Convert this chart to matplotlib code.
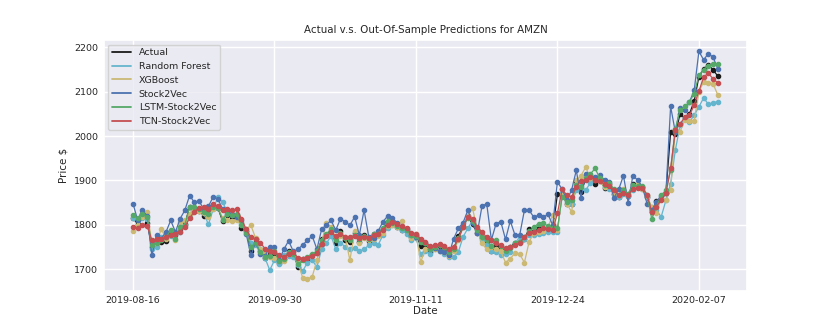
import matplotlib
matplotlib.use("Agg")
import matplotlib.pyplot as plt
from matplotlib.lines import Line2D
import seaborn as sns

sns.set_theme(style="darkgrid")
plt.rcParams['font.family'] = ['DejaVu Sans']

tick_positions = [0, 30, 60, 90, 120]
tick_labels = ["2019-08-16", "2019-09-30", "2019-11-11", "2019-12-24", "2020-02-07"]

actual = [1816, 1801, 1824, 1805, 1750, 1769, 1762, 1764, 1786, 1776,
          1790, 1801, 1841, 1834, 1831, 1821, 1823, 1844, 1839, 1808,
          1823, 1817, 1822, 1794, 1785, 1742, 1768, 1740, 1725, 1736,
          1736, 1713, 1724, 1740, 1733, 1706, 1722, 1720, 1732, 1736,
          1767, 1777, 1787, 1758, 1786, 1766, 1762, 1781, 1761, 1777,
          1763, 1780, 1777, 1791, 1805, 1802, 1796, 1788, 1786, 1772,
          1778, 1753, 1755, 1739, 1753, 1753, 1746, 1735, 1746, 1774,
          1797, 1819, 1801, 1782, 1770, 1761, 1740, 1752, 1750, 1739,
          1749, 1760, 1761, 1769, 1791, 1784, 1792, 1787, 1793, 1789,
          1869, 1870, 1847, 1848, 1898, 1875, 1903, 1907, 1892, 1901,
          1883, 1891, 1869, 1862, 1878, 1865, 1892, 1887, 1885, 1862,
          1828, 1853, 1858, 1871, 2009, 2004, 2050, 2040, 2050, 2079,
          2134, 2151, 2160, 2150, 2135]

random_forest = [1815, 1812, 1815, 1814, 1746, 1750, 1773, 1770, 1775, 1780,
                 1784, 1800, 1823, 1840, 1832, 1826, 1801, 1835, 1863, 1851,
                 1830, 1822, 1815, 1805, 1785, 1760, 1755, 1745, 1725, 1698,
                 1720, 1712, 1732, 1730, 1728, 1710, 1696, 1715, 1720, 1705,
                 1745, 1758, 1775, 1745, 1760, 1750, 1745, 1748, 1741, 1745,
                 1754, 1760, 1755, 1777, 1794, 1800, 1795, 1788, 1780, 1765,
                 1770, 1735, 1742, 1735, 1745, 1742, 1735, 1727, 1728, 1739,
                 1773, 1792, 1810, 1790, 1765, 1755, 1740, 1738, 1732, 1734,
                 1739, 1758, 1773, 1769, 1777, 1777, 1780, 1782, 1784, 1784,
                 1784, 1871, 1856, 1848, 1878, 1887, 1878, 1895, 1905, 1898,
                 1885, 1880, 1870, 1862, 1870, 1866, 1878, 1885, 1880, 1862,
                 1840, 1833, 1818, 1855, 1893, 1968, 2024, 2040, 2032, 2047,
                 2066, 2086, 2072, 2075, 2078]

xgboost = [1786, 1800, 1818, 1829, 1760, 1758, 1791, 1768, 1778, 1765,
           1806, 1810, 1825, 1838, 1832, 1826, 1818, 1835, 1840, 1815,
           1810, 1808, 1812, 1806, 1790, 1799, 1770, 1745, 1735, 1728,
           1725, 1730, 1718, 1735, 1740, 1715, 1680, 1678, 1683, 1720,
           1760, 1805, 1795, 1770, 1775, 1772, 1720, 1785, 1760, 1770,
           1765, 1768, 1775, 1782, 1798, 1800, 1795, 1809, 1790, 1770,
           1780, 1716, 1745, 1748, 1745, 1740, 1738, 1730, 1742, 1765,
           1795, 1820, 1837, 1790, 1758, 1745, 1750, 1745, 1740, 1715,
           1724, 1736, 1734, 1715, 1762, 1781, 1784, 1787, 1795, 1822,
           1788, 1867, 1848, 1829, 1900, 1911, 1930, 1905, 1900, 1898,
           1885, 1890, 1872, 1868, 1880, 1870, 1888, 1892, 1880, 1865,
           1840, 1826, 1860, 1856, 1878, 2013, 2010, 2036, 2034, 2034,
           2100, 2122, 2120, 2118, 2093]

stock2vec = [1848, 1810, 1833, 1820, 1731, 1776, 1769, 1784, 1810, 1784,
             1814, 1833, 1866, 1851, 1854, 1835, 1842, 1863, 1858, 1836,
             1829, 1825, 1818, 1810, 1780, 1731, 1760, 1735, 1730, 1750,
             1750, 1720, 1745, 1764, 1740, 1745, 1755, 1765, 1775, 1745,
             1790, 1800, 1810, 1788, 1814, 1807, 1799, 1818, 1777, 1833,
             1773, 1770, 1786, 1807, 1820, 1815, 1805, 1795, 1790, 1778,
             1772, 1765, 1758, 1745, 1748, 1740, 1738, 1733, 1769, 1792,
             1805, 1833, 1805, 1781, 1842, 1848, 1766, 1803, 1807, 1767,
             1809, 1777, 1777, 1833, 1833, 1817, 1822, 1817, 1824, 1799,
             1897, 1880, 1856, 1878, 1923, 1861, 1914, 1912, 1907, 1912,
             1901, 1897, 1861, 1880, 1911, 1850, 1911, 1901, 1886, 1848,
             1833, 1852, 1866, 1871, 2067, 2009, 2064, 2058, 2077, 2103,
             2191, 2172, 2186, 2178, 2152]

lstm_stock2vec = [1823, 1815, 1825, 1818, 1754, 1760, 1765, 1772, 1788, 1769,
                  1795, 1800, 1840, 1840, 1835, 1828, 1825, 1840, 1838, 1812,
                  1825, 1822, 1824, 1800, 1782, 1750, 1760, 1738, 1728, 1730,
                  1740, 1718, 1722, 1738, 1735, 1712, 1720, 1728, 1735, 1740,
                  1765, 1780, 1790, 1765, 1782, 1770, 1765, 1778, 1768, 1775,
                  1768, 1780, 1780, 1792, 1808, 1805, 1798, 1792, 1788, 1776,
                  1775, 1762, 1758, 1745, 1750, 1755, 1750, 1738, 1745, 1770,
                  1795, 1815, 1808, 1788, 1772, 1765, 1752, 1765, 1752, 1742,
                  1748, 1758, 1762, 1772, 1785, 1795, 1803, 1804, 1797, 1793,
                  1792, 1863, 1852, 1855, 1890, 1885, 1905, 1915, 1927, 1905,
                  1890, 1895, 1880, 1868, 1878, 1870, 1890, 1888, 1887, 1868,
                  1813, 1840, 1867, 1878, 1923, 2017, 2058, 2067, 2077, 2096,
                  2137, 2150, 2159, 2163, 2163]

tcn_stock2vec = [1795, 1793, 1800, 1798, 1765, 1768, 1768, 1772, 1776, 1779,
                 1784, 1796, 1815, 1830, 1838, 1840, 1836, 1846, 1842, 1834,
                 1836, 1834, 1835, 1814, 1790, 1772, 1768, 1760, 1746, 1742,
                 1738, 1732, 1728, 1735, 1738, 1725, 1724, 1726, 1730, 1736,
                 1757, 1774, 1783, 1775, 1780, 1773, 1772, 1774, 1770, 1773,
                 1771, 1776, 1779, 1789, 1800, 1806, 1802, 1797, 1792, 1782,
                 1780, 1768, 1762, 1752, 1754, 1756, 1752, 1745, 1750, 1768,
                 1795, 1818, 1814, 1795, 1784, 1772, 1766, 1758, 1754, 1747,
                 1750, 1754, 1758, 1773, 1782, 1784, 1788, 1792, 1791, 1788,
                 1826, 1880, 1867, 1863, 1886, 1899, 1902, 1908, 1900, 1898,
                 1892, 1888, 1878, 1868, 1872, 1868, 1880, 1883, 1882, 1868,
                 1830, 1841, 1856, 1871, 1927, 2013, 2028, 2042, 2047, 2070,
                 2101, 2133, 2142, 2129, 2120]

series = [
    ("Actual", actual, "#1a1a1a"),
    ("Random Forest", random_forest, "#64B5CD"),
    ("XGBoost", xgboost, "#CCB974"),
    ("Stock2Vec", stock2vec, "#4C72B0"),
    ("LSTM-Stock2Vec", lstm_stock2vec, "#55A868"),
    ("TCN-Stock2Vec", tcn_stock2vec, "#C44E52"),
]

fig = plt.figure(figsize=(8.3, 3.32), dpi=100)
ax = fig.add_axes([0.125, 0.125, 0.775, 0.755])

x = list(range(len(actual)))
handles = []
for name, vals, col in series:
    ax.plot(x, vals, color=col, lw=0.9, marker="o", ms=3.0)
    handles.append(Line2D([], [], color=col, lw=1.3, label=name))

ax.set_xticks(tick_positions)
ax.set_xticklabels(tick_labels)
ax.set_ylim(1652, 2217)
ax.tick_params(labelsize=6.8, length=0, pad=4)
ax.set_xlabel("Date", fontsize=7.4, labelpad=1)
ax.set_ylabel("Price $", fontsize=7.4)
ax.set_title("Actual v.s. Out-Of-Sample Predictions for AMZN", fontsize=7.4, pad=5)
ax.legend(handles=handles, loc="upper left", fontsize=6.8, frameon=True,
          facecolor="#EAEAF2", edgecolor="#cccccc", framealpha=0.8)

fig.savefig("out.png", dpi=100)
